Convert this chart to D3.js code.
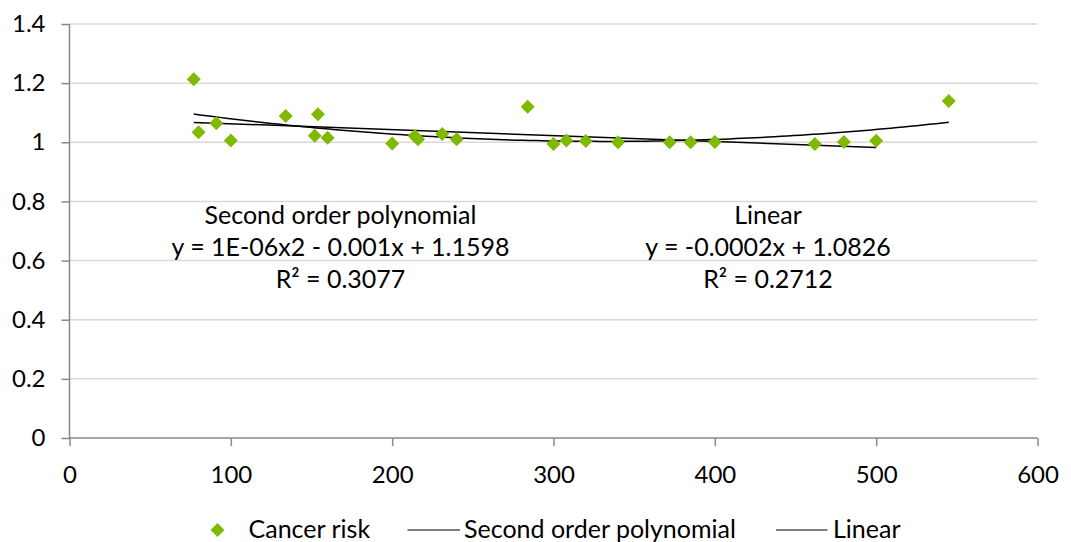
<html>
<head>
    <script src="https://d3js.org/d3.v7.min.js"></script>
    <style>
        body { margin: 0; background: #fff; }
        text { font-family: Lato, "Open Sans", sans-serif; fill: #000; }
    </style>
</head>
<body>
<svg id="chart" width="1071" height="542"></svg>
<script>

    // scatter values
    var doseX = [77, 80, 91, 100, 134, 152, 154, 160, 200, 214, 216, 231, 240, 284,
                 300, 308, 320, 340, 372, 385, 400, 462, 480, 500, 545];
    var riskY = [1.213, 1.034, 1.064, 1.006, 1.089, 1.022, 1.095, 1.015, 0.996, 1.021, 1.010, 1.028, 1.010, 1.120,
                 0.994, 1.006, 1.004, 1.000, 1.000, 1.000, 1.001, 0.994, 1.001, 1.005, 1.140];

    // trendline coefficients (c0, c1, c2) and the x span each one is drawn over
    var polyCoef = [1.1598, -0.000945, 1.424e-6];
    var polyRange = [77, 545];
    var linearCoef = [1.0826, -0.0002];
    var linearRange = [77, 500];

    var xTicks = [0, 100, 200, 300, 400, 500, 600];
    var yTicks = [0, 0.2, 0.4, 0.6, 0.8, 1, 1.2, 1.4];

    var polyLabel = ["Second order polynomial", "y = 1E-06x2 - 0.001x + 1.1598", "R² = 0.3077"];
    var linearLabel = ["Linear", "y = -0.0002x + 1.0826", "R² = 0.2712"];
    var legendNames = ["Cancer risk", "Second order polynomial", "Linear"];

    var green = "#7fba00";
    var svg = d3.select("#chart");

    var x = d3.scaleLinear().domain([0, 600]).range([69.5, 1037.5]);
    var y = d3.scaleLinear().domain([0, 1.4]).range([438, 24]);

    // gridlines
    svg.append("g")
        .selectAll("line")
        .data(yTicks.slice(1))
        .enter()
        .append("line")
        .attr("x1", x(0)).attr("x2", x(600))
        .attr("y1", function (d) { return y(d); })
        .attr("y2", function (d) { return y(d); })
        .attr("stroke", "#d9d9d9")
        .attr("stroke-width", 1.5);

    // y axis
    var yAxis = svg.append("g")
        .attr("transform", "translate(" + x(0) + ",0)")
        .call(d3.axisLeft(y).tickValues(yTicks).tickSize(8).tickPadding(16)
            .tickFormat(function (d) { return d3.format("")(+d.toFixed(1)); }));

    // x axis
    var xAxis = svg.append("g")
        .attr("transform", "translate(0," + y(0) + ")")
        .call(d3.axisBottom(x).tickValues(xTicks).tickSize(8).tickPadding(20));

    [yAxis, xAxis].forEach(function (g) {
        g.selectAll("path, line").attr("stroke", "#898989").attr("stroke-width", 1.5);
        g.selectAll("text").style("font-family", "Lato").style("font-size", "24px").attr("fill", "#000");
    });
    xAxis.select(".domain").attr("d", "M" + x(0) + ",0H" + x(600));
    yAxis.select(".domain").attr("d", "M0," + y(0) + "V" + y(1.4));

    // trendlines
    var polyFn = function (v) { return polyCoef[0] + polyCoef[1] * v + polyCoef[2] * v * v; };
    var linFn = function (v) { return linearCoef[0] + linearCoef[1] * v; };
    var line = d3.line()
        .x(function (d) { return x(d[0]); })
        .y(function (d) { return y(d[1]); });

    var polySteps = d3.range(polyRange[0], polyRange[1] + 0.1, 4).map(function (v) { return [v, polyFn(v)]; });
    svg.append("path")
        .attr("d", line(polySteps))
        .attr("fill", "none")
        .attr("stroke", "#000")
        .attr("stroke-width", 1.5);

    svg.append("path")
        .attr("d", line(linearRange.map(function (v) { return [v, linFn(v)]; })))
        .attr("fill", "none")
        .attr("stroke", "#000")
        .attr("stroke-width", 1.5);

    // scatter points
    var diamond = d3.symbol().type(d3.symbolSquare).size(98);
    svg.append("g")
        .selectAll("path")
        .data(doseX)
        .enter()
        .append("path")
        .attr("d", diamond)
        .attr("fill", green)
        .attr("transform", function (d, i) {
            return "translate(" + x(d) + "," + y(riskY[i]) + ") rotate(45)";
        });

    // equation labels
    var addLabel = function (lines, cx) {
        svg.append("g")
            .selectAll("text")
            .data(lines)
            .enter()
            .append("text")
            .attr("x", cx)
            .attr("y", function (d, i) { return 224 + i * 32; })
            .attr("text-anchor", "middle")
            .style("font-size", "25px")
            .text(function (d) { return d; });
    };
    addLabel(polyLabel, 340.5);
    addLabel(linearLabel, 768);

    // legend
    var legend = svg.append("g");
    legend.append("path")
        .attr("d", diamond)
        .attr("fill", green)
        .attr("transform", "translate(217.5,530) rotate(45)");
    legend.append("text").attr("x", 248.5).attr("y", 538).style("font-size", "25px").text(legendNames[0]);

    legend.append("line").attr("x1", 407.5).attr("x2", 460).attr("y1", 530).attr("y2", 530)
        .attr("stroke", "#000").attr("stroke-width", 1.2);
    legend.append("text").attr("x", 464).attr("y", 538).style("font-size", "25px").text(legendNames[1]);

    legend.append("line").attr("x1", 776).attr("x2", 827.5).attr("y1", 530).attr("y2", 530)
        .attr("stroke", "#000").attr("stroke-width", 1.2);
    legend.append("text").attr("x", 833).attr("y", 538).style("font-size", "25px").text(legendNames[2]);

</script>
</body>
</html>
